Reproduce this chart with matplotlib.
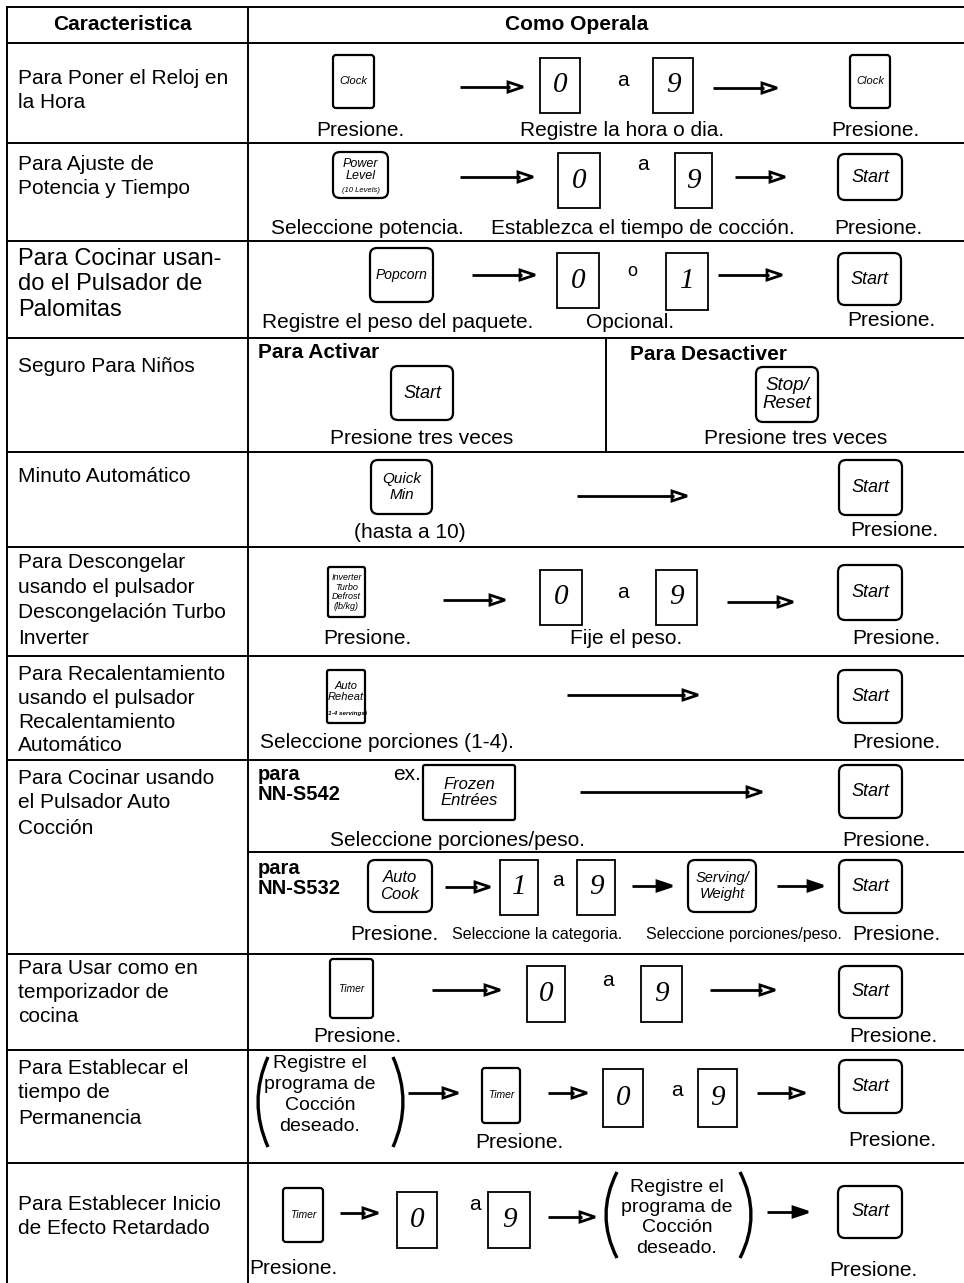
import matplotlib
matplotlib.use("Agg")
import matplotlib.pyplot as plt
from matplotlib.patches import FancyBboxPatch, Rectangle, Polygon, PathPatch
from matplotlib.path import Path

# ======================= CONTENT =======================
header_labels = ["Caracteristica", "Como Operala"]

feature_lines = [
    ["Para Poner el Reloj en", "la Hora"],
    ["Para Ajuste de", "Potencia y Tiempo"],
    ["Para Cocinar usan-", "do el Pulsador de", "Palomitas"],
    ["Seguro Para Niños"],
    ["Minuto Automático"],
    ["Para Descongelar", "usando el pulsador", "Descongelación Turbo", "Inverter"],
    ["Para Recalentamiento", "usando el pulsador", "Recalentamiento", "Automático"],
    ["Para Cocinar usando", "el Pulsador Auto", "Cocción"],
    ["Para Usar como en", "temporizador de", "cocina"],
    ["Para Establecar el", "tiempo de", "Permanencia"],
    ["Para Establecer Inicio", "de Efecto Retardado"],
]

row1_labels = ["Clock", "0", "a", "9", "Clock"]
row1_captions = ["Presione.", "Registre la hora o dia.", "Presione."]
row2_labels = ["Power\nLevel", "(10 Levels)", "0", "a", "9", "Start"]
row2_captions = ["Seleccione potencia.", "Establezca el tiempo de cocción.", "Presione."]
row3_labels = ["Popcorn", "0", "o", "1", "Start"]
row3_captions = ["Registre el peso del paquete.", "Opcional.", "Presione."]
row4_titles = ["Para Activar", "Para Desactiver"]
row4_labels = ["Start", "Stop/\nReset"]
row4_captions = ["Presione tres veces", "Presione tres veces"]
row5_labels = ["Quick\nMin", "Start"]
row5_captions = ["(hasta a 10)", "Presione."]
row6_labels = ["Inverter\nTurbo\nDefrost\n(lb/kg)", "0", "a", "9", "Start"]
row6_captions = ["Presione.", "Fije el peso.", "Presione."]
row7_labels = ["Auto\nReheat", "(1-4 servings)", "Start"]
row7_captions = ["Seleccione porciones (1-4).", "Presione."]
row8a_labels = ["para", "NN-S542", "ex.", "Frozen\nEntrées", "Start"]
row8a_captions = ["Seleccione porciones/peso.", "Presione."]
row8b_labels = ["para", "NN-S532", "Auto\nCook", "1", "a", "9", "Serving/\nWeight", "Start"]
row8b_captions = ["Presione.", "Seleccione la categoria.", "Seleccione porciones/peso.", "Presione."]
row9_labels = ["Timer", "0", "a", "9", "Start"]
row9_captions = ["Presione.", "Presione."]
program_lines = ["Registre el", "programa de", "Cocción", "deseado."]
row10_labels = ["Timer", "0", "a", "9", "Start"]
row10_captions = ["Presione.", "Presione."]
row11_labels = ["Timer", "0", "a", "9", "Start"]
row11_captions = ["Presione.", "Presione."]

# ======================= LAYOUT / STYLE =======================
MAIN = ["Liberation Sans", "DejaVu Sans"]
KEYF = ["Liberation Sans", "DejaVu Sans"]
DIGF = ["Liberation Serif", "DejaVu Serif"]
CAP = 15

fig = plt.figure(figsize=(9.64, 12.83), dpi=100)
ax = fig.add_axes([0, 0, 1, 1])
ax.set_xlim(0, 964)
ax.set_ylim(1283, 0)
ax.axis("off")


def txt(x, y, s, fs=CAP, ha="center", weight="normal", style="normal", family=MAIN, ls=1.0):
    ax.text(x, y, s, fontsize=fs, ha=ha, va="center", fontweight=weight,
            fontstyle=style, family=family, linespacing=ls, color="black")


def key(box, label, fs, shape="round", lw=1.6, ls=1.15, dy=0):
    x0, x1, y0, y1 = box
    r = {"round": 7, "tab": 3, "square": 2}[shape]
    ax.add_patch(FancyBboxPatch((x0, y0), x1 - x0, y1 - y0,
                                boxstyle=f"round,pad=0,rounding_size={r}",
                                fc="white", ec="black", lw=lw))
    if label:
        txt((x0 + x1) / 2, (y0 + y1) / 2 + dy, label, fs=fs, style="italic",
            family=KEYF, ls=ls)


def digit(box, d):
    x0, x1, y0, y1 = box
    ax.add_patch(Rectangle((x0, y0), x1 - x0, y1 - y0, fc="white", ec="black", lw=1.3))
    txt((x0 + x1) / 2, (y0 + y1) / 2, d, fs=21, style="italic", family=DIGF)


def arrow(x0, x1, y, filled=False):
    hl, hh = 15, 5.0
    ax.plot([x0, x1 - hl + 2], [y, y], color="black", lw=2.0, solid_capstyle="butt")
    ax.add_patch(Polygon([[x1, y], [x1 - hl, y - hh], [x1 - hl, y + hh]],
                         closed=True, fc="black" if filled else "white", ec="black",
                         lw=2.0, joinstyle="miter"))


def paren(x_out, x_in, y0, y1):
    xc = 2 * x_out - x_in
    p = Path([(x_in, y0), (xc, (y0 + y1) / 2), (x_in, y1)],
             [Path.MOVETO, Path.CURVE3, Path.CURVE3])
    ax.add_patch(PathPatch(p, fc="none", ec="black", lw=2.4))


# ---- table grid ----
LW = 1.4
row_edges = [43, 143, 241, 338, 452, 547, 656, 760, 954, 1050, 1163]
ax.plot([7, 964], [7, 7], color="black", lw=LW)
for yy in row_edges:
    ax.plot([7, 964], [yy, yy], color="black", lw=LW)
ax.plot([7, 7], [7, 1283], color="black", lw=LW)
ax.plot([248, 248], [7, 1283], color="black", lw=LW)
ax.plot([248, 964], [852, 852], color="black", lw=LW)
ax.plot([606, 606], [338, 452], color="black", lw=LW)

# ---- header ----
txt(122, 25, header_labels[0], fs=15, weight="bold")
txt(577, 25, header_labels[1], fs=15, weight="bold")

# ---- feature column ----
feat_y0 = [78, 165, 259, 367, 477, 562, 675, 778, 968, 1068, 1204]
feat_dy = [24, 24, 25.5, 0, 0, 25.5, 23.5, 25, 24.5, 25, 24]
feat_fs = [15, 15, 17, 15, 15, 15, 15, 15, 15, 15, 15]
for lines, y0, dy, fs in zip(feature_lines, feat_y0, feat_dy, feat_fs):
    for i, s in enumerate(lines):
        txt(18, y0 + i * dy, s, fs=fs, ha="left")

# ---- row 1 ----
key((333, 374, 55, 108), row1_labels[0], 8, shape="tab")
arrow(460, 523, 87)
digit((540, 580, 58, 113), row1_labels[1])
txt(623, 80, row1_labels[2])
digit((653, 693, 58, 113), row1_labels[3])
arrow(713, 777, 88)
key((850, 890, 55, 108), row1_labels[4], 8, shape="tab")
for x, s in zip([360, 622, 875], row1_captions):
    txt(x, 130, s)

# ---- row 2 ----
key((333, 388, 152, 198), row2_labels[0], 9, dy=-5, ls=1.1)
txt(360.5, 191, row2_labels[1], fs=5.5, style="italic", family=KEYF)
arrow(460, 533, 177)
digit((558, 600, 153, 208), row2_labels[2])
txt(643, 165, row2_labels[3])
digit((675, 712, 153, 208), row2_labels[4])
arrow(735, 785, 177)
key((838, 902, 154, 200), row2_labels[5], 13)
for x, s in zip([367, 643, 878], row2_captions):
    txt(x, 228, s)

# ---- row 3 ----
key((370, 433, 248, 302), row3_labels[0], 10)
arrow(472, 535, 275)
digit((557, 599, 253, 308), row3_labels[1])
txt(632, 272, row3_labels[2], fs=13)
digit((666, 708, 253, 310), row3_labels[3])
arrow(718, 782, 275)
key((838, 901, 253, 305), row3_labels[4], 13)
txt(398, 323, row3_captions[0])
txt(630, 323, row3_captions[1])
txt(891, 320, row3_captions[2])

# ---- row 4 ----
txt(258, 353, row4_titles[0], ha="left", weight="bold")
txt(630, 354, row4_titles[1], ha="left", weight="bold")
key((391, 453, 366, 420), row4_labels[0], 13)
key((756, 818, 367, 422), row4_labels[1], 13.5, ls=1.05)
txt(422, 438, row4_captions[0])
txt(796, 438, row4_captions[1])

# ---- row 5 ----
key((371, 432, 460, 514), row5_labels[0], 11)
arrow(577, 687, 496)
key((839, 902, 460, 515), row5_labels[1], 13)
txt(410, 532, row5_captions[0])
txt(894, 530, row5_captions[1])

# ---- row 6 ----
key((328, 365, 567, 617), row6_labels[0], 6.5, shape="square", ls=1.05)
arrow(443, 505, 600)
digit((540, 582, 570, 625), row6_labels[1])
txt(623, 593, row6_labels[2])
digit((656, 697, 570, 625), row6_labels[3])
arrow(727, 793, 602)
key((838, 902, 565, 620), row6_labels[4], 13)
for x, s in zip([367, 626, 896], row6_captions):
    txt(x, 638, s)

# ---- row 7 ----
key((327, 365, 670, 723), row7_labels[0], 8, shape="square", dy=-5)
txt(346, 714, row7_labels[1], fs=4.5, style="italic", family=KEYF, weight="bold")
arrow(567, 698, 695)
key((838, 902, 670, 723), row7_labels[2], 13)
txt(260, 742, row7_captions[0], ha="left")
txt(896, 742, row7_captions[1])

# ---- row 8a ----
txt(258, 775, row8a_labels[0], fs=14.5, ha="left", weight="bold")
txt(258, 794, row8a_labels[1], fs=14.5, ha="left", weight="bold")
txt(407, 775, row8a_labels[2])
key((423, 515, 765, 820), row8a_labels[3], 12, shape="square", ls=1.1)
arrow(580, 762, 792)
key((839, 902, 765, 818), row8a_labels[4], 13)
txt(458, 840, row8a_captions[0])
txt(886, 840, row8a_captions[1])

# ---- row 8b ----
txt(258, 869, row8b_labels[0], fs=14.5, ha="left", weight="bold")
txt(258, 888, row8b_labels[1], fs=14.5, ha="left", weight="bold")
key((368, 432, 860, 912), row8b_labels[2], 12, ls=1.1)
arrow(445, 490, 887)
digit((500, 538, 860, 915), row8b_labels[3])
txt(558, 880, row8b_labels[4])
digit((577, 615, 860, 915), row8b_labels[5])
arrow(632, 672, 886, filled=True)
key((688, 756, 860, 912), row8b_labels[6], 10.5, ls=1.1)
arrow(777, 823, 886, filled=True)
key((839, 902, 860, 913), row8b_labels[7], 13)
txt(394, 935, row8b_captions[0])
txt(537, 935, row8b_captions[1], fs=11.5)
txt(744, 935, row8b_captions[2], fs=11.5)
txt(896, 935, row8b_captions[3])

# ---- row 9 ----
key((330, 373, 959, 1018), row9_labels[0], 7.5, shape="tab")
arrow(432, 500, 990)
digit((527, 565, 966, 1022), row9_labels[1])
txt(608, 980, row9_labels[2])
digit((641, 682, 966, 1022), row9_labels[3])
arrow(710, 775, 990)
key((839, 902, 966, 1018), row9_labels[4], 13)
txt(357, 1036, row9_captions[0])
txt(893, 1036, row9_captions[1])

# ---- row 10 ----
paren(258, 268, 1057, 1147)
for i, s in enumerate(program_lines):
    txt(320, 1063 + i * 21.3, s, fs=14)
paren(403, 393, 1057, 1147)
arrow(408, 458, 1093)
key((482, 520, 1068, 1123), row10_labels[0], 7.5, shape="tab")
arrow(548, 587, 1093)
digit((603, 643, 1069, 1127), row10_labels[1])
txt(677, 1090, row10_labels[2])
digit((698, 737, 1069, 1127), row10_labels[3])
arrow(757, 805, 1093)
key((839, 902, 1060, 1113), row10_labels[4], 13)
txt(519, 1143, row10_captions[0])
txt(892, 1140, row10_captions[1])

# ---- row 11 ----
key((283, 323, 1188, 1242), row11_labels[0], 7.5, shape="tab")
arrow(340, 378, 1213)
digit((397, 437, 1192, 1248), row11_labels[1])
txt(475, 1205, row11_labels[2])
digit((488, 530, 1192, 1248), row11_labels[3])
arrow(548, 595, 1217)
paren(606, 617, 1172, 1258)
for i, s in enumerate(program_lines):
    txt(677, 1187 + i * 20.5, s, fs=14)
paren(751, 740, 1172, 1258)
arrow(767, 808, 1212, filled=True)
key((838, 902, 1186, 1238), row11_labels[4], 13)
txt(293, 1268, row11_captions[0])
txt(873, 1270, row11_captions[1])

fig.savefig("out.png", dpi=100)
